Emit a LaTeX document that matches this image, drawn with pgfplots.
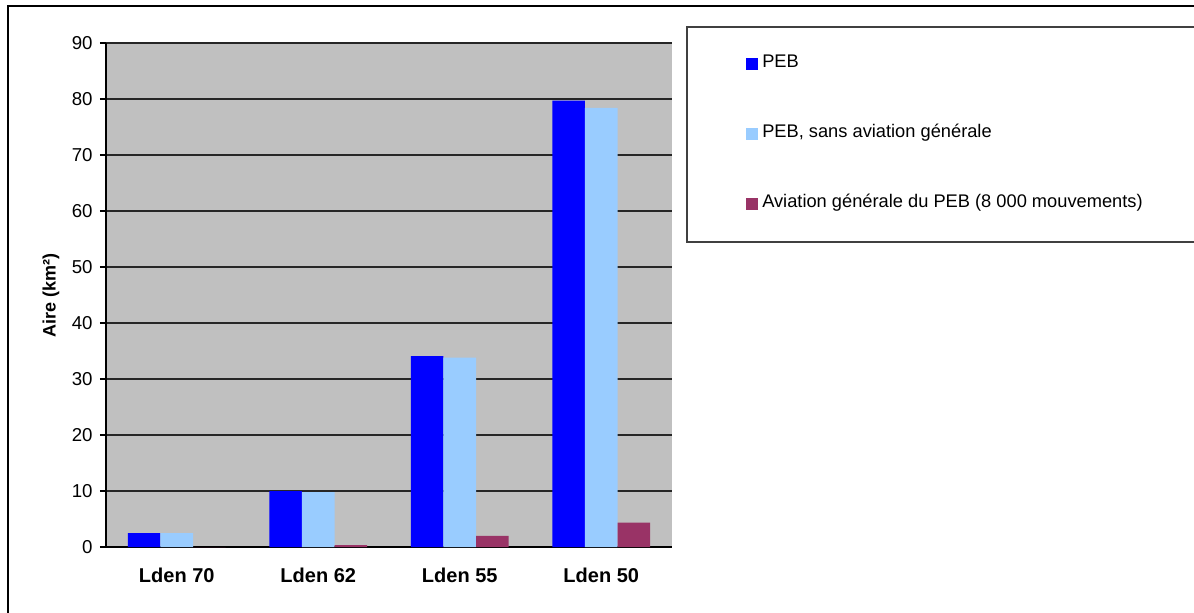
\documentclass[border=0pt]{standalone}
\usepackage{fontspec}
\setmainfont{Liberation Sans}
\usepackage{pgfplots}
\pgfplotsset{compat=1.18}
\definecolor{pebblue}{RGB}{0,0,255}
\definecolor{peblight}{RGB}{153,204,255}
\definecolor{pebmaroon}{RGB}{153,51,102}
\definecolor{plotgray}{RGB}{192,192,192}

\begin{document}
\begin{tikzpicture}
\path[use as bounding box] (0,0) rectangle (895.5pt,459pt);
\clip (0,0) rectangle (895.5pt,459pt);
% outer frame (right and bottom fall outside the picture)
\draw[black, line width=0.8pt] (6pt,-5pt) -- (6pt,454.5pt) -- (900pt,454.5pt);
% legend frame
\draw[black!75, line width=1.1pt] (900pt,438.75pt) -- (515.25pt,438.75pt) -- (515.25pt,277.5pt) -- (900pt,277.5pt);

\begin{axis}[
    at={(79.5pt,48.75pt)}, anchor=south west,
    scale only axis,
    width=424.5pt, height=378pt,
    ybar=0pt, bar width=24.4pt,
    xmin=-0.5, xmax=3.5,
    ymin=0, ymax=90,
    ytick={0,10,...,90},
    xtick={0,1,2,3},
    xticklabels={Lden 70,Lden 62,Lden 55,Lden 50},
    axis x line*=bottom, axis y line*=left,
    axis line style={black, line width=0.8pt, -},
    axis background/.style={fill=plotgray},
    ymajorgrids, major grid style={black!85, line width=0.8pt},
    xtick style={draw=none},
    ytick style={black, line width=0.8pt},
    tick align=outside, major tick length=4.5pt,
    /pgf/number format/assume math mode=true,
    yticklabel style={font=\fontsize{14}{16}\selectfont, anchor=east, xshift=-2pt},
    xticklabel style={font=\bfseries\fontsize{15}{17}\selectfont, anchor=base, yshift=-22pt},
    ylabel={Aire (km²)},
    ylabel style={font=\bfseries\fontsize{13.5}{15}\selectfont, at={(axis description cs:-0.0972,0.5)}, anchor=center},
    legend style={at={(axis description cs:1.1307,0.982)}, anchor=north west,
        draw=none, fill=none, inner sep=0pt, row sep=37.5pt, column sep=2pt,
        font=\fontsize{13.7}{16}\selectfont,
        nodes={inner sep=1pt, text height=10pt, text depth=3pt}},
    legend cell align=left,
    legend image code/.code={\fill[#1] (0pt,-6pt) rectangle (9pt,3pt);},
]
\addplot[draw=none, fill=pebblue] coordinates {(0,2.5) (1,10) (2,34.1) (3,79.7)};
\addplot[draw=none, fill=peblight] coordinates {(0,2.5) (1,9.8) (2,33.8) (3,78.4)};
\addplot[draw=none, fill=pebmaroon] coordinates {(0,0) (1,0.35) (2,2.0) (3,4.35)};
\legend{PEB, {PEB, sans aviation générale}, Aviation générale du PEB (8 000 mouvements)}
\end{axis}
\end{tikzpicture}
\end{document}
